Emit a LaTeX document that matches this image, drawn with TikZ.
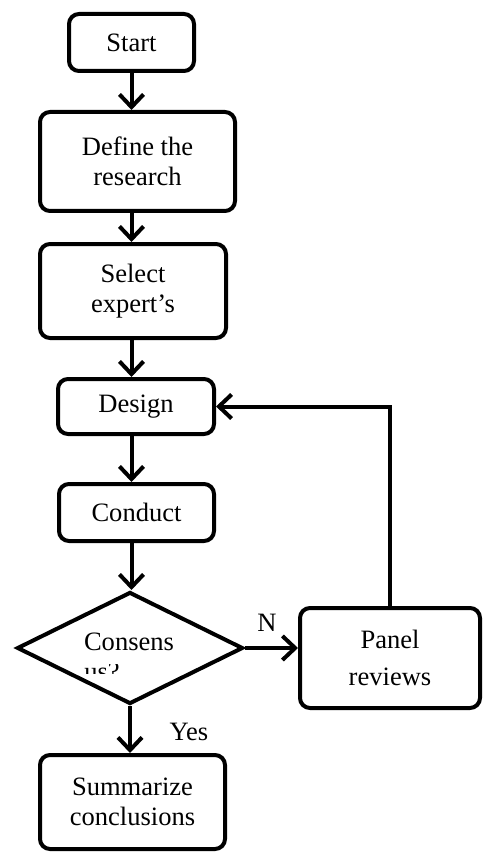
\documentclass[tikz,border=0pt]{standalone}
\usepackage{fontspec}
\setmainfont{Liberation Serif}
\usetikzlibrary{shapes.geometric,arrows.meta}
\begin{document}
\begin{tikzpicture}[x=0.75pt,y=-0.75pt,
  txt/.style={font=\fontsize{19.9}{22.5}\selectfont},
  box/.style={txt,draw,line width=3pt,rounded corners=7.5pt,align=center,inner sep=0pt},
  dec/.style={txt,draw,line width=3pt,diamond,inner sep=0pt,minimum width=169.5pt,minimum height=84pt},
  arr/.style={line width=3pt,-{Straight Barb[length=9.5pt,width=18pt]}},
  lbl/.style={txt,inner sep=0pt}]
\useasboundingbox (0,0) rectangle (483,852);
\node[box,minimum width=93.75pt,minimum height=42.75pt] (start) at (131.5,42.5) {Start};
\node[box,minimum width=146.25pt,minimum height=74.25pt] (define) at (137.5,161.5) {Define the\\research};
\node[box,minimum width=139.5pt,minimum height=70.5pt] (select) at (133,291) {Select\\expert's};
\node[box,minimum width=117pt,minimum height=41.25pt] (design) at (136,406.5) {Design};
\node[box,minimum width=116.25pt,minimum height=42.75pt] (conduct) at (136.5,512.5) {Conduct};
\node[dec] (cons) at (130,648) {};
\node[lbl,anchor=base] (constxt) at (129,650) {Consens};
\node[box,minimum width=135pt,minimum height=75pt,font=\fontsize{19.9}{27.75}\selectfont] (panel) at (390,658) {Panel\\reviews};
\node[box,minimum width=138.75pt,minimum height=70.5pt] (sum) at (132.5,802) {Summarize\\conclusions};
\begin{scope}
  \clip (60,664) rectangle (200,673);
  \node[lbl,anchor=base west] (us) at (84,680) {us?};
\end{scope}
\node[lbl] (n) at (267,623) {N};
\node[lbl] (yes) at (189,732) {Yes};
\draw[arr] (start.south) -- (start.south |- define.north);
\draw[arr] (start.south |- define.south) -- (start.south |- select.north);
\draw[arr] (start.south |- select.south) -- (start.south |- design.north);
\draw[arr] (start.south |- design.south) -- (start.south |- conduct.north);
\draw[arr] (start.south |- conduct.south) -- (start.south |- cons.north);
\draw[arr] (cons.east) -- (cons.east -| panel.west);
\draw[arr] (cons.south) -- (cons.south |- sum.north);
\draw[arr] (panel.north) |- (design.east);
\end{tikzpicture}
\end{document}
